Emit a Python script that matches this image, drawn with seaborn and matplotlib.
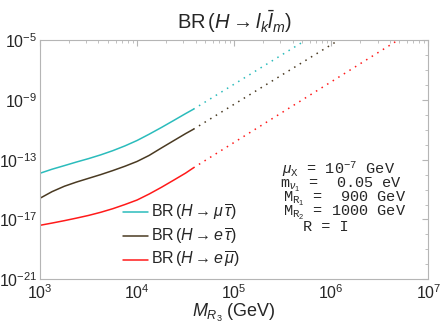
import numpy as np
import pandas as pd
import matplotlib
matplotlib.use("Agg")
import matplotlib.pyplot as plt
import matplotlib.ticker as mticker
import seaborn as sns

# Masse M_R3 (GeV) pour la partie en trait plein
mass_gev = [1000, 1330, 1780, 2370, 3160, 4220, 5620, 7500,
            10000, 13300, 17800, 23700, 31600, 38000]

# Rapports d'embranchement
br_mu_tau = [1.23e-14, 2.29e-14, 3.98e-14, 6.92e-14, 1.17e-13, 2.09e-13, 3.98e-13,
             8.32e-13, 1.91e-12, 5.01e-12, 1.41e-11, 4.07e-11, 1.20e-10, 2.34e-10]
br_e_tau = [2.63e-16, 7.24e-16, 1.66e-15, 3.16e-15, 5.62e-15, 1.0e-14, 1.86e-14,
            3.63e-14, 7.59e-14, 1.91e-13, 6.03e-13, 1.82e-12, 5.50e-12, 1.07e-11]
br_e_mu = [4.07e-18, 5.75e-18, 8.32e-18, 1.23e-17, 1.86e-17, 3.02e-17, 5.25e-17,
           1.0e-16, 2.0e-16, 5.01e-16, 1.41e-15, 4.17e-15, 1.26e-14, 2.82e-14]

# Prolongement en pointillés (début, fin)
dot_mass_mu_tau = [3.8e4, 5.5e5]
dot_mass_e_tau = [3.8e4, 1.2e6]
dot_mass_e_mu = [3.8e4, 4.9e6]
dot_br_mu_tau = [2.34e-10, 1.0e-5]
dot_br_e_tau = [1.07e-11, 1.0e-5]
dot_br_e_mu = [2.82e-14, 1.0e-5]

labels = [r'BR$\,(H \rightarrow \mu\,\overline{\tau})$',
          r'BR$\,(H \rightarrow e\,\overline{\tau})$',
          r'BR$\,(H \rightarrow e\,\overline{\mu})$']
colors = ['#2bbcbc', '#4a3a22', '#ff1a1a']

sns.set_style('white')
plt.rcParams['font.family'] = ['Liberation Sans', 'DejaVu Sans']
plt.rcParams['mathtext.fontset'] = 'custom'
plt.rcParams['mathtext.rm'] = 'Liberation Sans'
plt.rcParams['mathtext.it'] = 'Liberation Sans:italic'
plt.rcParams['mathtext.tt'] = 'Liberation Mono'
plt.rcParams['axes.unicode_minus'] = False

n = len(mass_gev)
solid = pd.DataFrame({
    'mass': mass_gev * 3,
    'br': br_mu_tau + br_e_tau + br_e_mu,
    'serie': [labels[0]] * n + [labels[1]] * n + [labels[2]] * n,
})
dotted = pd.DataFrame({
    'mass': dot_mass_mu_tau + dot_mass_e_tau + dot_mass_e_mu,
    'br': dot_br_mu_tau + dot_br_e_tau + dot_br_e_mu,
    'serie': [labels[0]] * 2 + [labels[1]] * 2 + [labels[2]] * 2,
})

fig = plt.figure(figsize=(4.41, 3.26), dpi=100)
ax = fig.add_axes([40 / 441, 1 - 279.3 / 326, 388.3 / 441, 239.3 / 326])

palette = dict(zip(labels, colors))
sns.lineplot(data=solid, x='mass', y='br', hue='serie', palette=palette,
             linewidth=1.1, legend=False, ax=ax, estimator=None, sort=False)
for lab in labels:
    sub = dotted[dotted['serie'] == lab]
    ax.plot(sub['mass'], sub['br'], color=palette[lab], linewidth=1.1,
            dashes=(1, 3.3))

ax.set_xscale('log')
ax.set_yscale('log')
ax.set_xlim(1e3, 1e7)
ax.set_ylim(1e-21, 1e-5)

ax.yaxis.set_major_locator(mticker.FixedLocator([1e-21, 1e-17, 1e-13, 1e-9, 1e-5]))
ax.yaxis.set_minor_locator(mticker.FixedLocator([10.0 ** k for k in range(-21, -4)]))
ax.yaxis.set_minor_formatter(mticker.NullFormatter())
ax.xaxis.set_major_locator(mticker.LogLocator(base=10, numticks=10))
ax.xaxis.set_minor_locator(mticker.LogLocator(base=10, subs=np.arange(2, 10), numticks=20))
ax.xaxis.set_minor_formatter(mticker.NullFormatter())

gray = '#b5b5b5'
for sp in ax.spines.values():
    sp.set_color(gray)
    sp.set_linewidth(0.8)
ax.tick_params(which='both', direction='in', top=True, right=True,
               color=gray, labelsize=11.5)
ax.tick_params(axis='y', pad=2)
ax.tick_params(axis='x', pad=3)
ax.tick_params(which='major', length=4, width=0.8)
ax.tick_params(which='minor', length=2.5, width=0.6)

ax.set_xlabel(r'$M_{R_3}$ (GeV)', fontsize=13, labelpad=0)
ax.set_ylabel('')
ax.set_title(r'BR$\,(H \rightarrow l_k \bar{l}_m)$', fontsize=14.5, pad=8)

handles = ax.lines[:3]
ax.legend(handles, labels, loc='upper left', bbox_to_anchor=(0.214, 0.322),
          frameon=False, fontsize=11.5, handlelength=1.55, handletextpad=0.2,
          labelspacing=0.25, borderpad=0, borderaxespad=0)

# Paramètres du modèle
params = [
    (0.623, 0.439, r'$\mu_{\mathtt{X}}$ = 10$^{\mathtt{-7}}$ GeV'),
    (0.618, 0.381, r'm$_{\nu_1}$ =  0.05 eV'),
    (0.626, 0.322, r'M$_{\mathtt{R}_1}$ =  900 GeV'),
    (0.626, 0.264, r'M$_{\mathtt{R}_2}$ = 1000 GeV'),
    (0.677, 0.201, r'R = I'),
]
for x, y, txt in params:
    ax.text(x, y, txt, transform=ax.transAxes, ha='left', va='baseline',
            fontsize=11, family='Liberation Mono')

fig.savefig('out.png', dpi=100)
